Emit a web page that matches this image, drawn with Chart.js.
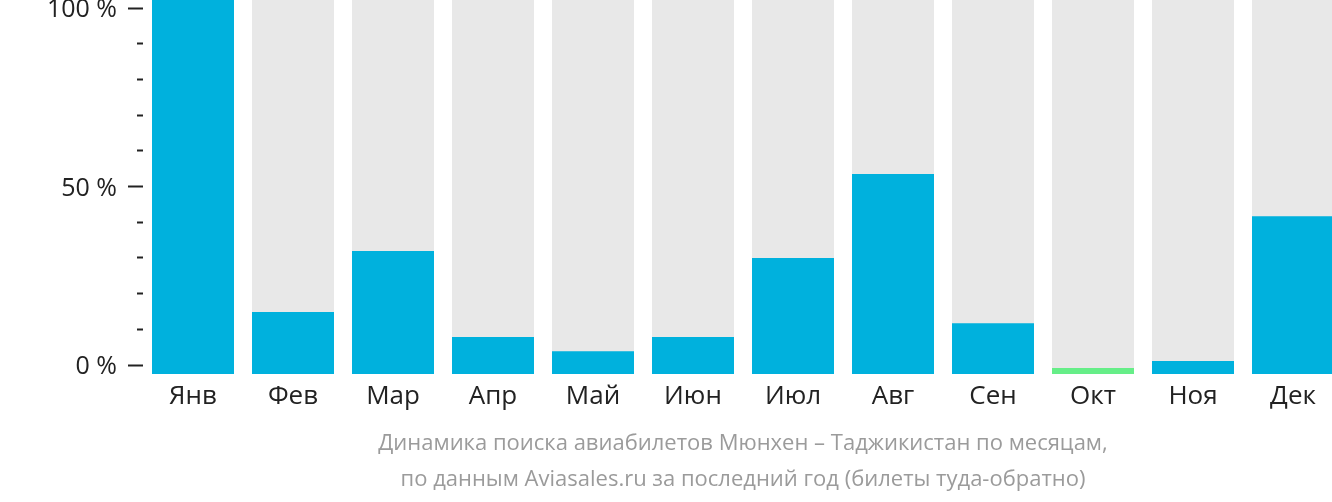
<!DOCTYPE html>
<html>
<head>
<meta charset="utf-8">
<script src="https://cdn.jsdelivr.net/npm/chart.js@4"></script>
<style>
  html, body { margin: 0; padding: 0; overflow: hidden; background: #fff; }
  canvas { display: block; }
</style>
</head>
<body>
<canvas id="plot" width="1343" height="502"></canvas>
<script>
// месяцы и доля поиска (% от максимума)
let meses = ['Янв', 'Фев', 'Мар', 'Апр', 'Май', 'Июн', 'Июл', 'Авг', 'Сен', 'Окт', 'Ноя', 'Дек'];
let valores = [100, 16.6, 32.9, 9.9, 6.1, 9.9, 31.0, 53.5, 13.6, 1.6, 3.5, 42.2];
let fondo = [100, 100, 100, 100, 100, 100, 100, 100, 100, 100, 100, 100];
let mesActual = 'Окт';
let yTicks = [0, 10, 20, 30, 40, 50, 60, 70, 80, 90, 100];
let yEtiquetas = {0: '0 %', 50: '50 %', 100: '100 %'};
let titulo = [
    'Динамика поиска авиабилетов Мюнхен – Таджикистан по месяцам,',
    'по данным Aviasales.ru за последний год (билеты туда-обратно)'
];

let colores = meses.map(m => m === mesActual ? '#66ee88' : '#00b1dd');

let plotRef = document.getElementById('plot');

let config = {
    type: 'bar',
    data: {
        labels: meses,
        datasets: [
            {
                data: valores,
                backgroundColor: colores,
                yAxisID: 'yBar',
                grouped: false,
                order: 0
            },
            {
                data: fondo,
                backgroundColor: '#e8e8e8',
                yAxisID: 'yBar',
                grouped: false,
                order: 1
            }
        ]
    },
    options: {
        responsive: false,
        animation: false,
        devicePixelRatio: 1,
        layout: { padding: 0 },
        datasets: {
            bar: { categoryPercentage: 1, barPercentage: 0.82 }
        },
        plugins: {
            legend: { display: false },
            tooltip: { enabled: false },
            title: {
                display: true,
                position: 'bottom',
                fullSize: false,
                text: titulo,
                color: '#9b9b9b',
                font: { family: '"Open Sans"', size: 22, weight: 'normal', lineHeight: 36 / 22 },
                padding: { top: 0, bottom: 4 }
            }
        },
        scales: {
            x: {
                offset: true,
                grid: { display: false, drawTicks: false },
                border: { display: false },
                ticks: {
                    color: '#222',
                    padding: 7,
                    font: { family: '"Open Sans"', size: 26 }
                },
                afterFit: s => { s.height = 52; s.paddingLeft = 0; s.paddingRight = 0; }
            },
            y: {
                position: 'left',
                min: -9 / 3.57,
                max: 100 + 8 / 3.57,
                grid: {
                    display: true,
                    drawOnChartArea: false,
                    drawTicks: true,
                    tickLength: 15,
                    tickWidth: 2,
                    tickColor: '#222',
                    tickBorderDash: ctx => (ctx.tick && ctx.tick.value % 50 === 0) ? [] : [0, 9, 6, 100]
                },
                border: { display: false },
                ticks: {
                    color: '#222',
                    padding: 11,
                    labelOffset: 2,
                    font: { family: '"Open Sans"', size: 25 },
                    callback: v => yEtiquetas[v] || ''
                },
                afterBuildTicks: s => { s.ticks = yTicks.map(v => ({ value: v })); },
                afterFit: s => { s.width = 143; s.paddingTop = 0; s.paddingBottom = 0; }
            },
            yBar: {
                display: false,
                min: 0,
                max: 100
            }
        }
    }
};

let chart = new Chart(plotRef, config);
</script>
</body>
</html>
